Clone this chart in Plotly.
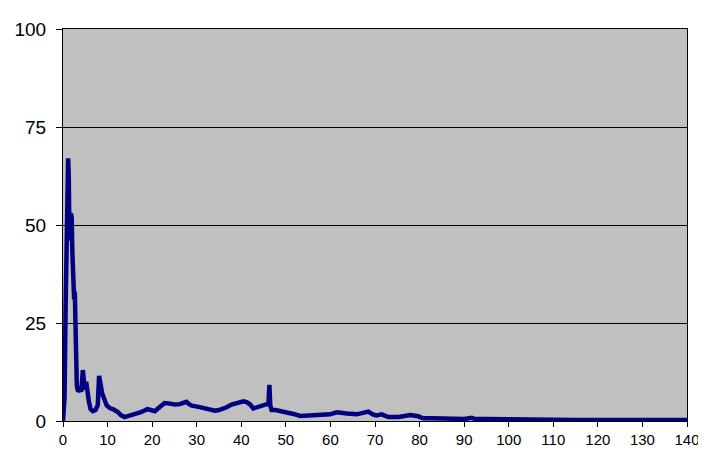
import plotly.graph_objects as go

x_vals = [0, 0.15, 0.35, 0.6, 0.85, 1.0, 1.15, 1.3, 1.45, 1.6, 1.75, 1.95, 2.1, 2.3, 2.5, 2.65,
          2.8, 2.95, 3.1, 3.4, 3.8, 4.1, 4.45, 4.7, 4.95, 5.2, 5.5, 5.8, 6.2, 6.7, 7.3, 7.8,
          8.1, 8.4, 8.8, 9.3, 9.8, 10.5, 11.3, 12.3, 13.0, 13.8, 14.5, 15.5, 16.3, 17.3, 18.2,
          18.9, 19.7, 20.6, 21.3, 22.1, 22.8, 23.6, 24.3, 25.1, 26.2, 27.0, 27.7, 28.3, 28.9,
          30.4, 31.9, 33.0, 34.1, 35.0, 35.6, 36.7, 37.8, 38.8, 39.7, 40.5, 41.2, 42.0, 42.7,
          43.4, 44.2, 45.0, 45.7, 46.1, 46.3, 46.5, 46.8, 47.7, 48.7, 50.2, 51.7, 53.2, 55.0,
          56.9, 58.5, 59.9, 61.4, 62.5, 63.7, 65.9, 67.2, 68.5, 69.5, 70.3, 71.5, 72.3, 73.0,
          75.3, 76.8, 77.9, 79.7, 80.8, 83.0, 84.9, 88.0, 90.0, 91.7, 92.5, 95, 98, 100, 103,
          105, 107, 108, 115, 125, 140]
y_vals = [0, 6, 6, 30, 45, 62, 67, 62, 46, 50, 53, 52, 43, 35, 31, 33,
          22, 14, 9, 7.5, 8, 7.5, 13, 10, 8, 10, 7, 5, 3, 2.5, 2.8, 4,
          11.5, 9, 7, 5.5, 4, 3.3, 3, 2.3, 1.5, 1.0, 1.2, 1.7, 2.0, 2.2, 2.6,
          3.0, 2.8, 2.5, 3.2, 4.1, 4.6, 4.5, 4.3, 4.2, 4.3, 4.5, 4.9, 4.3, 3.9,
          3.6, 3.2, 2.9, 2.6, 2.8, 3.0, 3.5, 4.2, 4.5, 4.8, 5.0, 4.8, 4.2, 3.2,
          3.5, 3.8, 4.0, 4.3, 4.3, 9.2, 4.0, 2.8, 2.8, 2.6, 2.3, 1.8, 1.3, 1.4,
          1.5, 1.6, 1.7, 2.2, 2.0, 1.9, 1.7, 2.0, 2.4, 1.7, 1.4, 1.7, 1.2, 1.0,
          1.0, 1.3, 1.5, 1.2, 0.7, 0.7, 0.7, 0.5, 0.5, 0.8, 0.5, 0.5, 0.45, 0.5, 0.45,
          0.45, 0.4, 0.25, 0.25, 0.25, 0.25]

x_ticks = list(range(0, 141, 10))
y_ticks = [0, 25, 50, 75, 100]

FONT = "Arial, Liberation Sans, sans-serif"

fig = go.Figure()
fig.add_trace(go.Scatter(x=x_vals, y=y_vals, mode="lines",
                         line=dict(color="#000080", width=4.5),
                         showlegend=False, hoverinfo="skip"))

# page body has an 8px margin, so the figure is shifted by (8, 8)
fig.update_layout(
    width=698, height=464,
    margin=dict(l=55, r=19, t=21, b=51),
    paper_bgcolor="white",
    plot_bgcolor="#C0C0C0",
    font=dict(family=FONT, color="black"),
)
fig.update_xaxes(
    range=[0, 140], tickvals=x_ticks, ticktext=[str(v) for v in x_ticks],
    showgrid=False, zeroline=False, automargin=False,
    showline=True, linecolor="black", linewidth=1, mirror=True,
    ticks="outside", ticklen=5, tickcolor="black", tickwidth=1,
    tickfont=dict(size=15, family=FONT, color="black"),
)
fig.update_yaxes(
    range=[0, 100], tickvals=y_ticks, ticktext=[str(v) for v in y_ticks],
    showgrid=True, gridcolor="black", gridwidth=1, zeroline=False, automargin=False,
    showline=True, linecolor="black", linewidth=1, mirror=True,
    ticks="outside", ticklen=6, tickcolor="black", tickwidth=1,
    tickfont=dict(size=19, family=FONT, color="black"),
    ticklabelstandoff=6,
)

fig.write_html("out.html")
